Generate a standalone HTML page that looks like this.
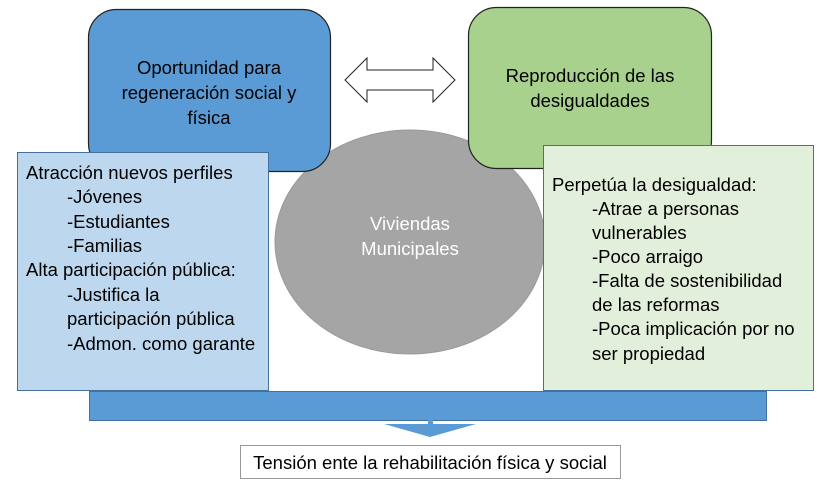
<!DOCTYPE html>
<html><head><meta charset="utf-8"><style>
body{margin:0;background:#fff}
svg text{font-family:"Liberation Sans",sans-serif;font-size:18.5px;fill:#000}
</style></head><body>
<svg width="827" height="486" viewBox="0 0 827 486" xmlns="http://www.w3.org/2000/svg">
<ellipse cx="410" cy="242" rx="135" ry="112" fill="#a5a5a5" stroke="#9a9a9a"/>
<rect x="88.5" y="9.5" width="242" height="162" rx="28" fill="#5b9bd5" stroke="#222" stroke-width="1.2"/>
<rect x="468.5" y="7.5" width="243" height="161" rx="28" fill="#a9d18e" stroke="#222" stroke-width="1.2"/>
<polygon points="345,80 367,58 367,70 433,70 433,58 455,80 433,102 433,90 367,90 367,102" fill="#fff" stroke="#222" stroke-width="1"/>
<g text-anchor="middle">
<text x="209" y="74">Oportunidad para</text>
<text x="209" y="99">regeneración social y</text>
<text x="209" y="124">física</text>
<text x="590" y="82">Reproducción de las</text>
<text x="590" y="107">desigualdades</text>
<text x="410" y="230" style="fill:#fff">Viviendas</text>
<text x="410" y="255" style="fill:#fff">Municipales</text>
</g>
<rect x="17.5" y="152.5" width="251" height="238" fill="#bdd7ee" stroke="#41719c" stroke-width="1"/>
<g>
<text x="26" y="179">Atracción nuevos perfiles</text>
<text x="67" y="203">-Jóvenes</text>
<text x="67" y="228">-Estudiantes</text>
<text x="67" y="252">-Familias</text>
<text x="26" y="276">Alta participación pública:</text>
<text x="67" y="301">-Justifica la</text>
<text x="67" y="325">participación pública</text>
<text x="67" y="350">-Admon. como garante</text>
</g>
<rect x="543.5" y="145.5" width="270" height="245" fill="#e2efda" stroke="#41719c" stroke-width="1"/>
<g>
<text x="552" y="191">Perpetúa la desigualdad:</text>
<text x="592" y="215">-Atrae a personas</text>
<text x="592" y="239">vulnerables</text>
<text x="592" y="263">-Poco arraigo</text>
<text x="592" y="287">-Falta de sostenibilidad</text>
<text x="592" y="311">de las reformas</text>
<text x="592" y="335">-Poca implicación por no</text>
<text x="592" y="360">ser propiedad</text>
</g>
<rect x="89.5" y="391.5" width="677" height="29" fill="#5b9bd5" stroke="#41719c" stroke-width="1"/>
<rect x="428" y="420" width="5" height="5" fill="#5b9bd5"/>
<polygon points="384,424 476,424 430,437" fill="#5b9bd5"/>
<rect x="240.5" y="445.5" width="380" height="33" fill="#fff" stroke="#999"/>
<text x="430" y="469" text-anchor="middle">Tensión ente la rehabilitación física y social</text>
</svg>
</body></html>
